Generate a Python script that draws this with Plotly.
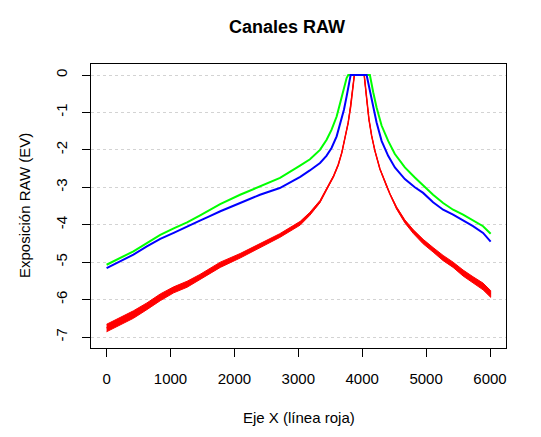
import plotly.graph_objects as go

# ---- data ----
red_x = [0, 210, 420, 630, 840, 1050, 1260, 1460, 1780, 2090, 2400, 2710, 3030, 3180,
         3340, 3440, 3550, 3625, 3680, 3730, 3780, 3820, 3850, 3877, 4031, 4069, 4105,
         4147, 4198, 4277, 4381, 4433, 4537, 4667, 4797, 4953, 5109, 5266, 5422, 5578,
         5734, 5891, 6010]
red_y = [-6.76, -6.58, -6.40, -6.18, -5.94, -5.74, -5.59, -5.40, -5.07, -4.83, -4.56, -4.29,
         -3.96, -3.71, -3.38, -3.05, -2.71, -2.40, -2.08, -1.68, -1.28, -0.84, -0.39, 0.0,
         0.0, -0.64, -1.18, -1.62, -2.02, -2.51, -2.96, -3.18, -3.55, -3.91, -4.18, -4.45,
         -4.67, -4.89, -5.07, -5.29, -5.47, -5.65, -5.85]
# half-thickness of the noisy red band, read at the same x positions
red_noise = [0.10, 0.10, 0.10, 0.09, 0.09, 0.08, 0.08, 0.07, 0.07, 0.06, 0.06, 0.05,
             0.05, 0.04, 0.03, 0.03, 0.02, 0.02, 0.01, 0.01, 0.01, 0.0, 0.0, 0.0,
             0.0, 0.0, 0.0, 0.0, 0.01, 0.01, 0.02, 0.02, 0.03, 0.04, 0.05, 0.06,
             0.06, 0.07, 0.07, 0.08, 0.08, 0.09, 0.09]

green_x = [0, 210, 420, 630, 840, 1050, 1260, 1464, 1594, 1777, 2089, 2402, 2714, 3027,
           3183, 3339, 3443, 3521, 3600, 3662, 3714, 3756, 3781, 4120, 4172, 4225, 4303,
           4406, 4511, 4667, 4823, 4953, 5109, 5266, 5422, 5578, 5734, 5891, 6010]
green_y = [-5.07, -4.90, -4.71, -4.49, -4.27, -4.10, -3.94, -3.75, -3.62, -3.45, -3.20,
           -2.98, -2.75, -2.42, -2.25, -2.00, -1.73, -1.46, -1.11, -0.70, -0.35, -0.08, 0.0,
           0.0, -0.46, -0.87, -1.35, -1.76, -2.11, -2.47, -2.74, -2.95, -3.20, -3.42, -3.60,
           -3.73, -3.88, -4.04, -4.24]

blue_x = [0, 210, 420, 630, 840, 1050, 1260, 1460, 1590, 1780, 2090, 2400, 2710, 3030,
          3180, 3340, 3440, 3520, 3600, 3662, 3714, 3756, 3797, 3819, 4069, 4120, 4172,
          4225, 4303, 4406, 4511, 4667, 4823, 4953, 5109, 5266, 5422, 5578, 5734, 5891, 6010]
blue_y = [-5.16, -4.98, -4.80, -4.58, -4.38, -4.22, -4.04, -3.89, -3.79, -3.64, -3.42,
          -3.20, -3.02, -2.72, -2.55, -2.35, -2.16, -1.95, -1.64, -1.28, -0.93, -0.57,
          -0.17, 0.0, 0.0, -0.42, -0.87, -1.27, -1.76, -2.16, -2.47, -2.78, -3.00, -3.15,
          -3.40, -3.60, -3.73, -3.88, -4.04, -4.22, -4.45]

x_ticks = [0, 1000, 2000, 3000, 4000, 5000, 6000]
y_ticks = [0, -1, -2, -3, -4, -5, -6, -7]
y_tick_text = ["0", "-1", "-2", "-3", "-4", "-5", "-6", "-7"]

FONT = "Liberation Sans, Arial, sans-serif"

# The page body adds an 8 px margin, so the figure is 8 px smaller and offsets are shifted.
W, H = 533, 429

red_upper = [y + n for y, n in zip(red_y, red_noise)]
red_lower = [y - n for y, n in zip(red_y, red_noise)]

fig = go.Figure()
fig.add_trace(go.Scatter(x=red_x + red_x[::-1], y=red_upper + red_lower[::-1],
                         mode="lines", fill="toself", fillcolor="#FF0000",
                         line=dict(color="#FF0000", width=1), hoverinfo="skip",
                         showlegend=False))
fig.add_trace(go.Scatter(x=red_x, y=red_y, mode="lines",
                         line=dict(color="#FF0000", width=1.5), showlegend=False))
fig.add_trace(go.Scatter(x=green_x, y=green_y, mode="lines",
                         line=dict(color="#00FF00", width=2), showlegend=False))
fig.add_trace(go.Scatter(x=blue_x, y=blue_y, mode="lines",
                         line=dict(color="#0000FF", width=2), showlegend=False))

fig.update_layout(
    width=W, height=H,
    margin=dict(l=83, r=35, t=56, b=89, pad=0),
    paper_bgcolor="white", plot_bgcolor="white",
    font=dict(family=FONT, size=15, color="black"),
    title=dict(text="<b>Canales RAW</b>", x=279 / W, xanchor="center",
               y=1 - 19 / H, yanchor="middle", xref="container", yref="container",
               font=dict(family=FONT, size=18, color="black")),
    showlegend=False,
)
fig.update_xaxes(
    range=[-244, 6250], tickvals=x_ticks, ticks="outside", ticklen=8, tickcolor="black",
    showline=True, mirror=True, linecolor="black", linewidth=1, showgrid=False,
    zeroline=False, ticklabelstandoff=9,
)
fig.update_yaxes(
    range=[-7.294, 0.294], tickvals=y_ticks, ticktext=y_tick_text, tickangle=-90,
    ticks="outside", ticklen=8, tickcolor="black",
    showline=True, mirror=True, linecolor="black", linewidth=1,
    showgrid=True, gridcolor="#D3D3D3", griddash="dot", gridwidth=1,
    zeroline=False, ticklabelstandoff=9,
)
fig.add_annotation(text="Eje X (línea roja)", xref="paper", yref="paper",
                   x=(298.5 - 91) / 415, y=(348 - 417) / 284, showarrow=False,
                   xanchor="center", yanchor="middle", font=dict(family=FONT, size=15))
fig.add_annotation(text="Exposición RAW (EV)", xref="paper", yref="paper",
                   x=(24 - 91) / 415, y=(348 - 206) / 284, showarrow=False, textangle=-90,
                   xanchor="center", yanchor="middle", font=dict(family=FONT, size=15))

fig.write_html("out.html")
